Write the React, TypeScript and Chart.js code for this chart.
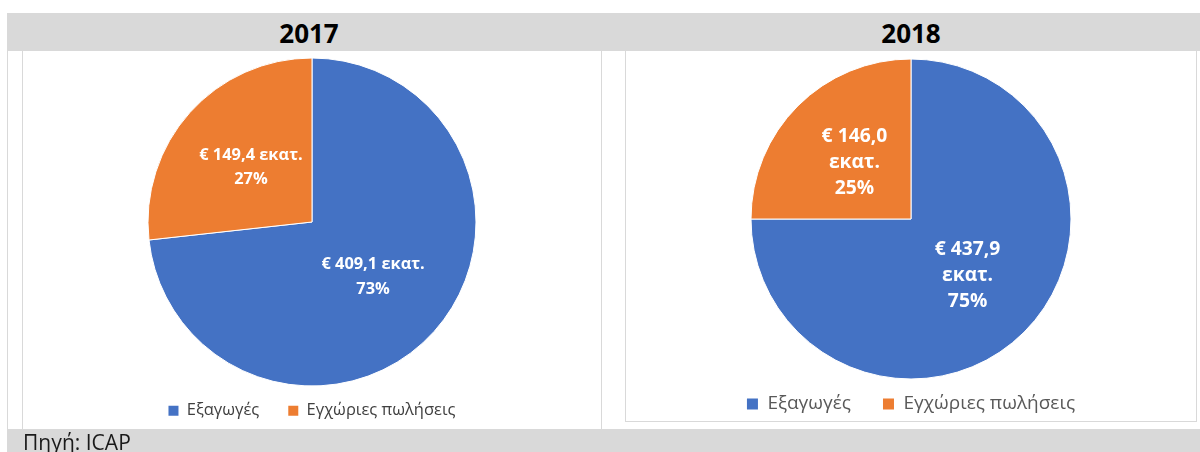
import React, { useEffect, useRef } from 'react';
import { Chart, registerables } from 'chart.js';

Chart.register(...registerables);

const categories = ['Εξαγωγές', 'Εγχώριες πωλήσεις'];
const years = ['2017', '2018'];
const values2017 = [409.1, 149.4];
const values2018 = [437.9, 146.0];
const sliceColors = ['#4472C4', '#ED7D31'];
const unitLabel = 'εκατ.';
const sourceNote = 'Πηγή: ICAP';

const FONT = "'Open Sans', 'Noto Sans', sans-serif";

function fmtEuro(v: number): string {
  return '€ ' + v.toFixed(1).replace('.', ',');
}

const sliceLabelPlugin = {
  id: 'sliceLabels',
  afterDatasetsDraw(chart: any, _args: any, opts: any) {
    const { ctx } = chart;
    const meta = chart.getDatasetMeta(0);
    const data = chart.data.datasets[0].data as number[];
    const total = data.reduce((a, b) => a + b, 0);
    ctx.save();
    ctx.font = `bold ${opts.size}px ${FONT}`;
    ctx.fillStyle = '#ffffff';
    ctx.textAlign = 'center';
    ctx.textBaseline = 'middle';
    meta.data.forEach((arc: any, i: number) => {
      const { x, y, startAngle, endAngle, outerRadius } = arc.getProps(
        ['x', 'y', 'startAngle', 'endAngle', 'outerRadius'],
        true
      );
      const mid = (startAngle + endAngle) / 2;
      const r = outerRadius * opts.frac;
      const cx = x + Math.cos(mid) * r;
      const cy = y + Math.sin(mid) * r;
      const pct = Math.round((data[i] / total) * 100) + '%';
      const lines = opts.split
        ? [fmtEuro(data[i]), unitLabel, pct]
        : [fmtEuro(data[i]) + ' ' + unitLabel, pct];
      const n = lines.length;
      lines.forEach((t: string, k: number) => {
        ctx.fillText(t, cx, cy + (k - (n - 1) / 2) * opts.lineHeight);
      });
    });
    ctx.restore();
  },
};

type PieCfg = {
  width: number;
  height: number;
  radius: number;
  padTop: number;
  legendMaxHeight: number;
  legendFont: number;
  legendBox: number;
  legendGap: number;
  legendColor: string;
  labelSize: number;
  labelLineHeight: number;
  split: boolean;
};

function PieChart({ values, cfg }: { values: number[]; cfg: PieCfg }) {
  const ref = useRef<HTMLCanvasElement | null>(null);
  useEffect(() => {
    if (!ref.current) return;
    const chart = new Chart(ref.current, {
      type: 'pie',
      data: {
        labels: categories,
        datasets: [
          {
            data: values,
            backgroundColor: sliceColors,
            borderColor: '#ffffff',
            borderWidth: 1,
            radius: cfg.radius,
            clip: false as any,
          } as any,
        ],
      },
      options: {
        responsive: false,
        animation: false,
        devicePixelRatio: 1,
        layout: { padding: { top: cfg.padTop, bottom: 0, left: 0, right: 0 } },
        plugins: {
          tooltip: { enabled: false },
          title: { display: false },
          legend: {
            display: true,
            position: 'bottom',
            maxHeight: cfg.legendMaxHeight,
            labels: {
              boxWidth: cfg.legendBox,
              boxHeight: cfg.legendBox,
              padding: cfg.legendGap,
              color: cfg.legendColor,
              font: { family: FONT, size: cfg.legendFont },
              generateLabels: (ch: any) =>
                (Chart as any).overrides.pie.plugins.legend.labels
                  .generateLabels(ch)
                  .map((l: any) => ({ ...l, lineWidth: 0 })),
            },
          },
          sliceLabels: {
            size: cfg.labelSize,
            lineHeight: cfg.labelLineHeight,
            frac: 0.5,
            split: cfg.split,
          },
        } as any,
      },
      plugins: [sliceLabelPlugin],
    });
    return () => chart.destroy();
  }, []);
  return (
    <canvas
      ref={ref}
      width={cfg.width}
      height={cfg.height}
      style={{ width: cfg.width, height: cfg.height, display: 'block' }}
    />
  );
}

const leftCfg: PieCfg = {
  width: 578,
  height: 377,
  radius: 164,
  padTop: 18.5,
  legendMaxHeight: 56,
  legendFont: 16.5,
  legendBox: 10,
  legendGap: 29,
  legendColor: '#404040',
  labelSize: 16.4,
  labelLineHeight: 24.5,
  split: false,
};

const rightCfg: PieCfg = {
  width: 570,
  height: 370,
  radius: 160,
  padTop: 23.5,
  legendMaxHeight: 59.5,
  legendFont: 19,
  legendBox: 11,
  legendGap: 32,
  legendColor: '#595959',
  labelSize: 19.3,
  labelLineHeight: 26,
  split: true,
};

const GRAY = '#d9d9d9';
const LINE = '#d9d9d9';

export default function App() {
  const abs = (s: React.CSSProperties): React.CSSProperties => ({ position: 'absolute', ...s });
  return (
    <div
      style={{
        position: 'absolute',
        left: 0,
        top: 0,
        width: 1200,
        height: 452,
        overflow: 'hidden',
        background: '#ffffff',
        fontFamily: FONT,
      }}
    >
      {/* header band */}
      <div style={abs({ left: 7, top: 13, width: 1193, height: 38, background: GRAY })} />
      {/* footer band */}
      <div style={abs({ left: 7, top: 429, width: 1193, height: 23, background: GRAY })} />
      {/* left cell gridline */}
      <div style={abs({ left: 7, top: 51, width: 1, height: 378, background: GRAY })} />
      {/* left chart box borders */}
      <div style={abs({ left: 22, top: 51, width: 1, height: 378, background: LINE })} />
      <div style={abs({ left: 601, top: 51, width: 1, height: 378, background: LINE })} />
      {/* right chart box */}
      <div
        style={abs({
          left: 625,
          top: 51,
          width: 570,
          height: 370,
          border: `1px solid ${LINE}`,
          borderTop: 'none',
        })}
      />
      {/* titles */}
      <div
        style={abs({
          left: 209,
          top: 15,
          width: 200,
          textAlign: 'center',
          fontWeight: 700,
          fontSize: 26,
          lineHeight: 'normal',
          color: '#000',
        })}
      >
        {years[0]}
      </div>
      <div
        style={abs({
          left: 811,
          top: 15,
          width: 200,
          textAlign: 'center',
          fontWeight: 700,
          fontSize: 26,
          lineHeight: 'normal',
          color: '#000',
        })}
      >
        {years[1]}
      </div>
      {/* charts */}
      <div style={abs({ left: 23, top: 52 })}>
        <PieChart values={values2017} cfg={leftCfg} />
      </div>
      <div style={abs({ left: 626, top: 52 })}>
        <PieChart values={values2018} cfg={rightCfg} />
      </div>
      {/* source */}
      <div
        style={abs({
          left: 23,
          top: 428,
          fontSize: 21,
          lineHeight: 'normal',
          color: '#1a1a1a',
          whiteSpace: 'nowrap',
        })}
      >
        {sourceNote}
      </div>
    </div>
  );
}
